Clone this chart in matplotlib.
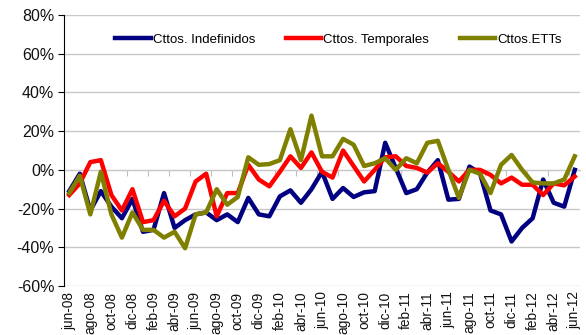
import numpy as np
import matplotlib
matplotlib.use('Agg')
import matplotlib.pyplot as plt
from matplotlib.ticker import FuncFormatter

plt.rcParams['font.family'] = ['Liberation Sans', 'DejaVu Sans']

# meses jun-08 .. jun-12
meses = ['jun', 'jul', 'ago', 'sep', 'oct', 'nov', 'dic', 'ene', 'feb', 'mar', 'abr', 'may']
etiquetas = []
for k in range(49):
    m = k % 12
    anio = 8 + (k + 5) // 12
    etiquetas.append('%s-%02d' % (meses[m], anio))

# variacion interanual (%)
indefinidos = [-11, -2, -21, -11, -19, -25, -15, -32, -31, -12, -30, -26, -23,
               -22, -26, -23, -27, -14.5, -23, -24, -13.7, -10.6, -17, -10, -1,
               -15, -9.4, -14, -11.6, -11, 14, 1, -12, -10, -1.4, 5, -15.4,
               -15, 1.7, -1.7, -21, -23, -37, -30, -25, -5, -17, -19, 0]
temporales = [-13, -7, 4, 5, -13, -21, -10, -27, -26, -16, -24, -20, -6,
              -2, -24, -12, -12, 2.6, -5, -8.5, -1, 7, 1, 9, -1,
              -4, 10, 2, -6, 0, 6.5, 7, 2, 1, -1.4, 3.4, -1,
              -6, 0, 0, -2.6, -7, -4, -7.7, -7.7, -13, -7, -8, -3.4]
etts = [-12, -3, -23, -1, -23, -35, -22, -31, -31, -35, -32, -40.5, -23,
        -22, -10, -18, -14, 6.5, 2.6, 3, 5, 21, 5, 28, 7,
        7, 16, 13, 2, 3.4, 6, 0, 6, 3.4, 14, 15, 0,
        -14.5, 0, -2, -12, 2.6, 7.7, 0, -6.5, -7, -7, -5, 7]

x = np.arange(len(etiquetas))

fig = plt.figure(figsize=(5.86, 3.35), dpi=100)
ax = fig.add_axes([0.1092, 0.1463, 0.8806, 0.8089])

ax.plot(x, np.array(indefinidos) / 100, color='#000080', lw=3.2, label='Cttos. Indefinidos')
ax.plot(x, np.array(temporales) / 100, color='#ff0000', lw=3.2, label='Cttos. Temporales')
ax.plot(x, np.array(etts) / 100, color='#808000', lw=3.2, label='Cttos.ETTs')

ax.set_xlim(-0.5, len(x) - 0.5)
ax.set_ylim(-0.6, 0.8)
ax.set_yticks(np.arange(-0.6, 0.81, 0.2))
ax.yaxis.set_major_formatter(FuncFormatter(lambda v, p: '%d%%' % round(v * 100)))
ax.yaxis.grid(True, color='#c8c8c8', lw=1)
ax.set_axisbelow(True)

ax.set_xticks(x[::2])
ax.set_xticklabels(etiquetas[::2], rotation=90, fontsize=9.8, color='#111111')
ax.tick_params(axis='x', length=0, pad=4)
ax.tick_params(axis='y', labelsize=11.5, labelcolor='#111111', length=4, color='black', pad=3)

for s in ['top', 'right', 'bottom']:
    ax.spines[s].set_visible(False)
ax.spines['left'].set_color('black')

# eje horizontal en el 0%
eje = ax.secondary_xaxis(0.6 / 1.4)
eje.set_xticks(np.arange(1.5, len(x) - 1, 2))
eje.tick_params(length=4, color='#c0c0c0', labelbottom=False)
eje.spines['bottom'].set_color('#c8c8c8')

ax.legend(loc='center', bbox_to_anchor=(0.532, 0.91), ncol=3, frameon=False,
          fontsize=9.5, handlelength=2.7, handletextpad=0.15, columnspacing=2.3)

fig.savefig('out.png', dpi=100)
